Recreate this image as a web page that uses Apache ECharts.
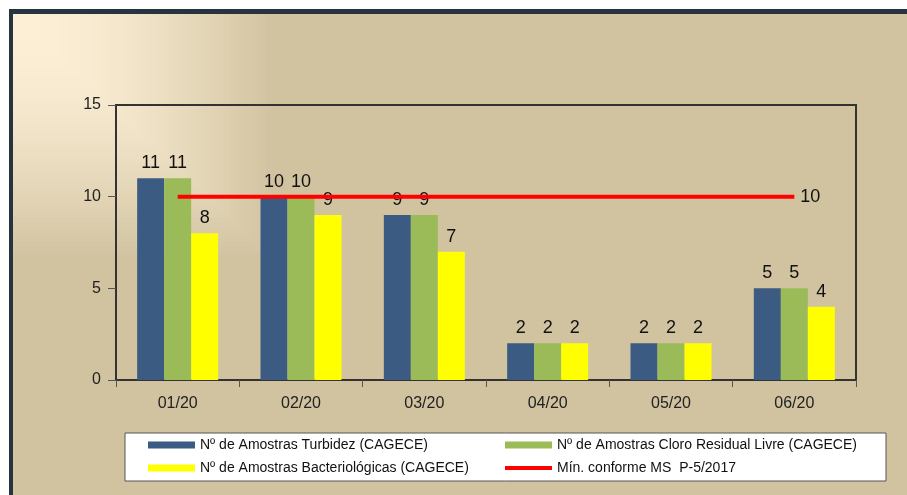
<!DOCTYPE html>
<html><head><meta charset="utf-8">
<script src="https://cdn.jsdelivr.net/npm/echarts@6/dist/echarts.min.js"></script>
<style>html,body{margin:0;padding:0;background:#fff}#c{width:907px;height:495px}</style>
</head><body><div id="c"></div>
<script>
const categories = ['01/20','02/20','03/20','04/20','05/20','06/20'];
const turbidez = [11,10,9,2,2,5];
const cloro = [11,10,9,2,2,5];
const bacterio = [8,9,7,2,2,4];
const minimo = [10,10,10,10,10,10];
const names = ['Nº de Amostras Turbidez (CAGECE)','Nº de Amostras Cloro Residual Livre (CAGECE)','Nº de Amostras Bacteriológicas (CAGECE)','Mín. conforme MS  P-5/2017'];
const yTicks = {min:0, max:15, interval:5};

const chart = echarts.init(document.getElementById('c'), null, {renderer:'canvas'});
const font = '"Liberation Sans", Arial, sans-serif';
const barLabel = {show:true, position:'top', fontSize:18, color:'#111', fontFamily:font, distance:6};
function legendAt(name, left, top, h){
  return {data:[name], left:left, top:top, padding:0, itemWidth:47, itemHeight:h, icon:'rect', itemGap:6,
    textStyle:{fontSize:14, color:'#111', fontFamily:font}, selectedMode:false};
}
// background: rectangular banded gradient in the top-left corner
function mix(a, b, t){
  const pa = a.match(/\w\w/g).map(h=>parseInt(h,16)), pb = b.match(/\w\w/g).map(h=>parseInt(h,16));
  return 'rgb(' + pa.map((v,i)=>Math.round(v+(pb[i]-v)*t)).join(',') + ')';
}
const bg = [
  {type:'rect', z:-10, shape:{x:9, y:9, width:898, height:486}, style:{fill:'#263440'}},
  {type:'rect', z:-9, shape:{x:13, y:14, width:894, height:481}, style:{fill:'#D1C3A0'}}
];
const N = 50;
for (let i = 0; i < N; i++) {
  const f = 1 - i / N;
  bg.push({type:'rect', z:-9, shape:{x:13, y:14, width:258*f, height:242*f},
    style:{fill:mix('D1C3A0','FCEFD6',Math.sin((i+1)/N*Math.PI/2))}});
}
bg.push({type:'rect', z:-8, shape:{x:125, y:433, width:761, height:48}, style:{fill:'#fff', stroke:'#555', lineWidth:1}});

chart.setOption({
  backgroundColor:'#fff',
  animation:false,
  graphic:bg,
  legend:[
    legendAt(names[0], 148, 438, 7),
    legendAt(names[1], 505, 438, 7),
    legendAt(names[2], 148, 461, 7),
    legendAt(names[3], 505, 461, 4)
  ],
  grid:{left:116, right:51, top:105, bottom:115, show:true, borderColor:'#333', borderWidth:2, backgroundColor:'transparent'},
  xAxis:{type:'category', data:categories,
    axisLine:{lineStyle:{color:'#333', width:2}},
    axisTick:{show:true, length:7, lineStyle:{color:'#555'}},
    axisLabel:{fontSize:16, color:'#222', fontFamily:font, margin:16}},
  yAxis:{type:'value', min:yTicks.min, max:yTicks.max, interval:yTicks.interval,
    splitLine:{show:false},
    axisLine:{show:true, lineStyle:{color:'#333', width:2}},
    axisTick:{show:true, length:8, lineStyle:{color:'#555'}},
    axisLabel:{fontSize:16, color:'#222', fontFamily:font, margin:15}},
  series:[
    {name:names[0], type:'bar', data:turbidez, barWidth:27, barGap:'0%', itemStyle:{color:'#3B5B82'}, label:barLabel},
    {name:names[1], type:'bar', data:cloro, barWidth:27, barGap:'0%', itemStyle:{color:'#9BBB59'}, label:barLabel},
    {name:names[2], type:'bar', data:bacterio, barWidth:27, barGap:'0%', itemStyle:{color:'#FFFF00'}, label:barLabel},
    {name:names[3], type:'line', data:minimo, symbol:'none', z:5, itemStyle:{color:'#FF0000'},
      lineStyle:{color:'#FF0000', width:4},
      endLabel:{show:true, formatter:p=>p.value, fontSize:18, color:'#111', fontFamily:font, distance:6}}
  ]
});
</script></body></html>
